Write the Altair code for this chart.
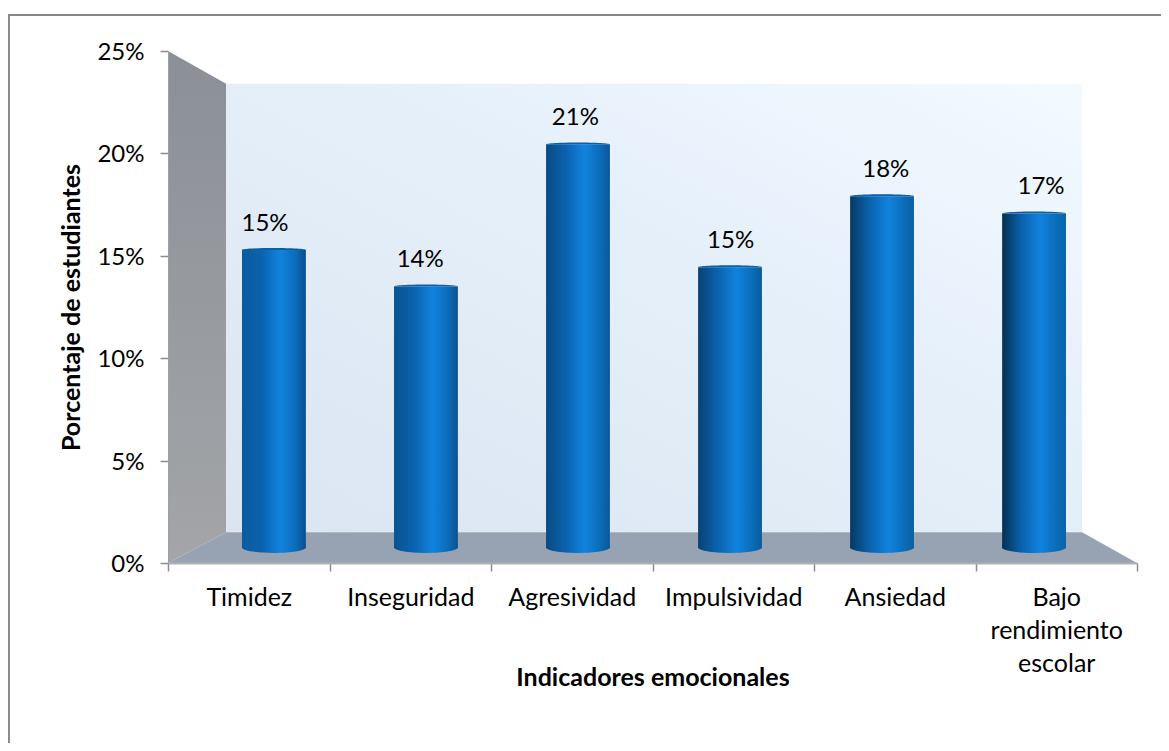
import altair as alt
import pandas as pd

categories = ["Timidez", "Inseguridad", "Agresividad", "Impulsividad", "Ansiedad", "Bajo rendimiento escolar"]
values = [15.5, 13.6, 21.0, 14.6, 18.3, 17.4]
labels = ["15%", "14%", "21%", "15%", "18%", "17%"]
y_ticks = [0, 5, 10, 15, 20, 25]

left_wall_x = [0, 0.36]
left_wall_top = [25, 23.4]
left_wall_bottom = [0, 1.5]
floor_x = [0, 0.36, 5.66, 6]
floor_back = [0, 1.5, 1.5, 0]
floor_front = [0, 0, 0, 0]
back_x = [0.36]
back_x2 = [5.66]
back_y = [1.5]
back_y2 = [23.4]

W, H = 969, 512
FONT = "Lato"
edge_left = ["#0c5a9e", "#0a5290", "#0a4a82", "#094272", "#083862", "#062f50"]
edge_right = ["#0b4c8c", "#0b5192", "#0b5698", "#0b5b9e", "#0b60a4", "#0b64aa"]

df = pd.DataFrame({"cat": categories, "val": values, "lab": labels})

xq = alt.Scale(domain=[0, 6], range=[0, W])
yq = alt.Scale(domain=[0, 25], range=[H, 0])

wall_df = pd.DataFrame({"x": left_wall_x, "top": left_wall_top, "bot": left_wall_bottom})
left_wall = alt.Chart(wall_df).mark_area(
    color=alt.Gradient(gradient="linear", x1=0, x2=0, y1=0, y2=1,
                       stops=[alt.GradientStop(offset=0, color="#8b9097"),
                              alt.GradientStop(offset=1, color="#a3a5a8")])
).encode(
    x=alt.X("x:Q", scale=xq, axis=None),
    y=alt.Y("top:Q", scale=yq, axis=None),
    y2="bot:Q",
)

floor_df = pd.DataFrame({"x": floor_x, "back": floor_back, "front": floor_front})
floor = alt.Chart(floor_df).mark_area(color="#97a3b3").encode(
    x=alt.X("x:Q", scale=xq, axis=None),
    y=alt.Y("back:Q", scale=yq, axis=None),
    y2="front:Q",
)

back_df = pd.DataFrame({"x": back_x, "x2": back_x2, "y": back_y, "y2": back_y2})
back = alt.Chart(back_df).mark_rect(
    color=alt.Gradient(gradient="linear", x1=0, x2=1, y1=1, y2=0,
                       stops=[alt.GradientStop(offset=0, color="#dbe5f1"),
                              alt.GradientStop(offset=0.6, color="#e6f0fb"),
                              alt.GradientStop(offset=1, color="#f3faff")])
).encode(
    x=alt.X("x:Q", scale=xq, axis=None),
    x2="x2:Q",
    y=alt.Y("y:Q", scale=yq, axis=None),
    y2="y2:Q",
)

x_axis = alt.Chart(df).mark_point(opacity=0).encode(
    x=alt.X("cat:N", sort=categories,
            scale=alt.Scale(type="band", domain=categories, range=[0, W], paddingInner=0, paddingOuter=0),
            axis=alt.Axis(
                title="Indicadores emocionales", titleFont=FONT, titleFontSize=25, titleFontWeight="bold",
                titleColor="#000000", titlePadding=-11, zindex=1,
                labelFont=FONT, labelFontSize=25, labelColor="#000000", labelAngle=0, labelPadding=14,
                labelLineHeight=33, labelOverlap=False, labelLimit=200,
                labelExpr="datum.label == 'Bajo rendimiento escolar' ? ['Bajo', 'rendimiento', 'escolar'] : datum.label",
                tickBand="extent", tickSize=8, tickColor="#8c8c8c", tickWidth=1.5,
                domainColor="#b0b0b0", domainWidth=2, grid=False)),
    y=alt.Y("val:Q", scale=yq,
            axis=alt.Axis(
                values=y_ticks, title="Porcentaje de estudiantes", titleFont=FONT, titleFontSize=25,
                titleFontWeight="bold", titleColor="#000000", titlePadding=12, zindex=1,
                labelFont=FONT, labelFontSize=24, labelColor="#000000", labelPadding=16, labelOffset=1.5,
                labelExpr="datum.value + '%'",
                tickSize=8, tickColor="#8c8c8c", tickWidth=1.5,
                domainColor="#a0a0a0", domainWidth=1, grid=False)),
)

bar_x = alt.Scale(type="band", domain=categories, range=[74, 898], paddingInner=0.58, paddingOuter=0)
bar_y = alt.Scale(domain=[0, 25], range=[496.5, 16.5])

bars = []
for cat, dark, right in zip(categories, edge_left, edge_right):
    grad = alt.Gradient(gradient="linear", x1=0, x2=1, y1=0, y2=0,
                        stops=[alt.GradientStop(offset=0, color=dark),
                               alt.GradientStop(offset=0.3, color="#0a62ad"),
                               alt.GradientStop(offset=0.6, color="#1183de"),
                               alt.GradientStop(offset=0.85, color="#0a6cb8"),
                               alt.GradientStop(offset=1, color=right)])
    one = df[df["cat"] == cat]
    body = alt.Chart(one).mark_bar(color=grad, cornerRadius=0).encode(
        x=alt.X("cat:N", scale=bar_x, axis=None, title=None),
        y=alt.Y("val:Q", scale=bar_y, axis=None),
        y2=alt.Y2(datum=0),
    )
    foot = alt.Chart(one).mark_point(
        filled=True, opacity=1, color=grad, size=4096,
        shape="M-1,-0.06 L1,-0.06 L1,0 A1,0.17 0 0 1 -1,0 Z",
    ).encode(
        x=alt.X("cat:N", scale=bar_x, axis=None),
        y=alt.Y(datum=0, scale=bar_y, axis=None),
    )
    cap = alt.Chart(one).mark_point(
        filled=True, opacity=1, color="#0c5ea6", size=4096, shape="M-1,0 A1,0.06 0 0 1 1,0 Z"
    ).encode(
        x=alt.X("cat:N", scale=bar_x, axis=None),
        y=alt.Y("val:Q", scale=bar_y, axis=None),
    )
    bars += [body, foot, cap]

text = alt.Chart(df).mark_text(font=FONT, fontSize=24, color="#000000", dy=-26).encode(
    x=alt.X("cat:N", scale=alt.Scale(type="point", domain=categories, range=[97, 873], padding=0), axis=None),
    y=alt.Y("val:Q", scale=bar_y, axis=None),
    text="lab:N",
)

border_df = pd.DataFrame({"cat": ["frame"]})
border_top = alt.Chart(border_df).mark_rule(color="#868686", strokeWidth=2).encode(
    x=alt.value(-160), x2=alt.value(993), y=alt.value(-36),
)
border_left = alt.Chart(border_df).mark_rule(color="#8c8c8c", strokeWidth=2).encode(
    x=alt.value(-159), y=alt.value(-36), y2=alt.value(700),
)

chart = alt.layer(border_top, border_left, left_wall, back, floor, x_axis, *bars, text).resolve_scale(
    x="independent", y="independent"
).properties(
    width=W, height=H, background="white",
    padding={"left": 160, "top": 43, "right": 24, "bottom": 180},
    autosize=alt.AutoSizeParams(type="none"),
).configure_view(stroke=None)

chart.save("out.html", embed_options={"renderer": "svg", "actions": False})
